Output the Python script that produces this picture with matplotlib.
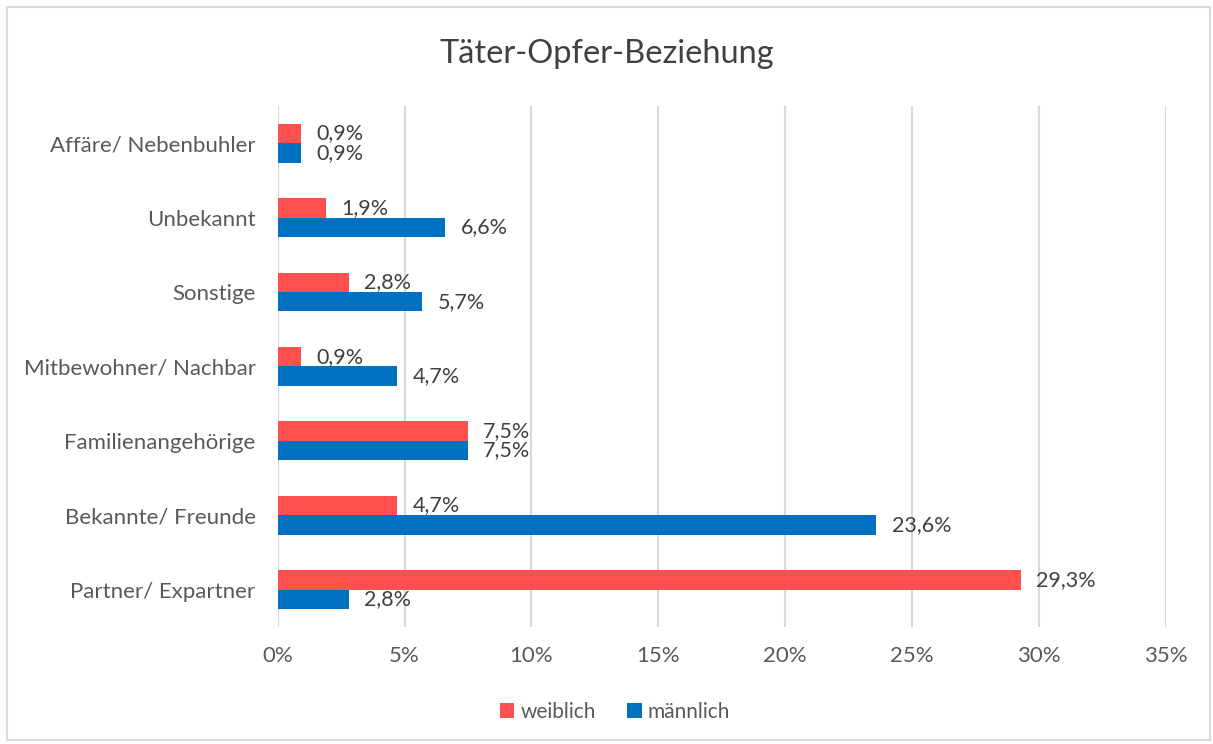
import matplotlib.pyplot as plt
import numpy as np
from matplotlib.patches import Rectangle
from matplotlib.ticker import FuncFormatter

plt.rcParams['font.family'] = ['Lato', 'DejaVu Sans']

# Data (bottom to top)
categories = ["Partner/ Expartner", "Bekannte/ Freunde", "Familienangehörige",
              "Mitbewohner/ Nachbar", "Sonstige", "Unbekannt", "Affäre/ Nebenbuhler"]
weiblich = [29.3, 4.7, 7.5, 0.9, 2.8, 1.9, 0.9]
maennlich = [2.8, 23.6, 7.5, 4.7, 5.7, 6.6, 0.9]
x_ticks = [0, 5, 10, 15, 20, 25, 30, 35]

RED = "#FF5050"
BLUE = "#0070C0"
TEXT = "#404040"
TICK = "#595959"
GRID = "#D9D9D9"

fig = plt.figure(figsize=(12.13, 7.44), dpi=100)
ax = fig.add_axes([0.229, 0.1575, 0.732, 0.7])

y = np.arange(len(categories))
h = 0.26
bars_w = ax.barh(y + h / 2, weiblich, height=h, color=RED, label="weiblich", zorder=3)
bars_m = ax.barh(y - h / 2, maennlich, height=h, color=BLUE, label="männlich", zorder=3)

for bars in (bars_w, bars_m):
    for b in bars:
        val = b.get_width()
        ax.annotate(f"{val:.1f}%".replace(".", ","),
                    (val, b.get_y() + b.get_height() / 2),
                    xytext=(11, 0), textcoords="offset points",
                    ha="left", va="center", fontsize=15.5, color=TEXT, zorder=4)

ax.set_xlim(0, 35)
ax.set_ylim(-0.5, len(categories) - 0.5)
ax.set_xticks(x_ticks)
ax.xaxis.set_major_formatter(FuncFormatter(lambda v, p: f"{v:.0f}%"))
ax.set_yticks(y)
ax.set_yticklabels(categories)
ax.tick_params(axis="both", length=0, labelsize=16, labelcolor=TICK)
ax.tick_params(axis="x", pad=14)
ax.tick_params(axis="y", pad=16)
ax.grid(axis="x", color=GRID, linewidth=1.5, zorder=0)
for s in ax.spines.values():
    s.set_visible(False)

fig.suptitle("Täter-Opfer-Beziehung", y=0.948, fontsize=23.5, color=TEXT)

fig.legend(loc="center", bbox_to_anchor=(0.507, 0.043), ncol=2, frameon=False,
           fontsize=15, handlelength=0.7, handleheight=0.7, handletextpad=0.3,
           columnspacing=1.5, labelcolor=TICK)

# outer frame
fig.patches.append(Rectangle((7 / 1213, 4 / 744), 1203 / 1213, 733 / 744,
                             transform=fig.transFigure, fill=False,
                             edgecolor=GRID, linewidth=1.5))

fig.savefig("out.png", dpi=100)
